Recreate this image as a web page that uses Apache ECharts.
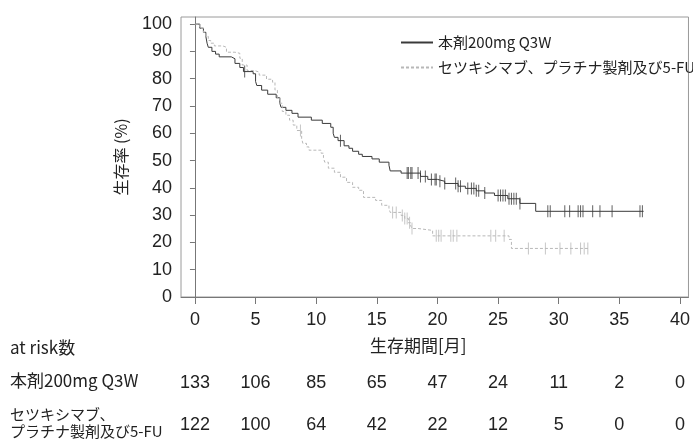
<!DOCTYPE html>
<html>
<head>
<meta charset="utf-8">
<script src="https://cdn.jsdelivr.net/npm/echarts@6/dist/echarts.min.js"></script>
<style>
html,body{margin:0;padding:0;background:#fff;}
#main{width:693px;height:442px;}
</style>
</head>
<body>
<div id="main"></div>
<script>
var nameA = '本剤200mg Q3W';
var nameB = 'セツキシマブ、プラチナ製剤及び5-FU';

// KM steps [month, survival %] (value after the drop)
var stepsA = [[0,100],[0.4,98.5],[0.7,97],[0.9,95.5],[1.0,93],[1.1,91.5],[1.4,90],[1.7,89],[2.0,88],
  [3.0,87.3],[3.3,85.6],[3.7,84.1],[4.0,82.6],[4.8,81.8],[5.0,79],[5.1,77.5],[5.5,75.8],[6.0,74.3],
  [6.7,73],[7.0,71],[7.1,69.5],[7.5,68.4],[8.0,67.3],[8.5,65.9],[9.6,64.8],[10.5,63.6],[11.2,62.2],
  [11.4,60],[11.5,58.5],[11.8,57.3],[12.3,55.4],[12.7,54.5],[13.0,53.4],[13.5,52.3],[13.8,51.5],
  [14.6,50.6],[15.2,49.4],[16.0,48.3],[16.1,46.2],[17.0,45.4],[18.6,44.2],[19.2,43.1],[20.0,42.4],
  [20.6,41.6],[21.7,40.6],[22.3,39.8],[23.2,38.9],[23.9,38.1],[24.7,37.2],[25.8,36.0],[26.8,34.3],
  [28.1,31.4],[37.0,31.4]];
var stepsB = [[0,100],[0.4,98.5],[0.7,97],[0.9,95.5],[1.1,94],[1.3,93],[1.6,92],[2.3,91.5],[2.6,89.7],
  [3.3,89.3],[3.7,87.5],[3.9,85],[4.3,83],[4.9,82.4],[5.3,81.3],[5.9,79.8],[6.4,78.7],[6.6,75.8],
  [6.8,73],[7.0,71],[7.2,68],[7.5,66.6],[7.8,64.8],[8.1,63],[8.4,61],[8.8,58],[8.9,56.3],[9.2,55],
  [9.4,53.8],[10.4,52.7],[10.6,51],[10.7,49.4],[11.0,47.2],[11.5,45.7],[12.0,43.9],[12.5,42],
  [13.0,40.2],[13.5,39.1],[13.9,36.5],[14.9,35.4],[15.4,33.6],[16.0,32.5],[16.1,31.0],[17.0,29.9],
  [17.3,28.8],[17.6,27.2],[17.8,26],[17.9,25.1],[18.4,24.4],[19.6,22.4],[25.9,21.1],[26.1,17.8],
  [32.5,17.8]];

// censoring times
var censA = [4.1,12.0,17.5,17.6,17.8,17.9,18.4,18.6,19.0,19.5,19.8,19.9,20.2,20.6,21.5,21.7,21.9,
  22.5,22.8,23.0,23.2,23.4,23.9,25.0,25.2,25.4,25.6,25.9,26.1,26.3,26.5,26.8,29.1,29.3,30.5,30.9,
  31.6,31.8,32.0,32.8,33.4,34.4,36.7,36.9];
var censB = [8.7,16.3,16.6,17.1,17.3,17.5,17.7,17.9,19.9,20.1,20.3,21.1,21.3,21.6,24.4,24.8,25.5,
  27.5,28.9,30.1,31.0,31.8,32.1,32.4];

var xTicks = [0,5,10,15,20,25,30,35,40];
var yTicks = [0,10,20,30,40,50,60,70,80,90,100];
var riskA = [133,106,85,65,47,24,11,2,0];
var riskB = [122,100,64,42,22,12,5,0,0];

var FONT = "'Liberation Sans','Noto Sans CJK JP',sans-serif";
var JFONT = "'Noto Sans CJK JP','Liberation Sans',sans-serif";

function survAt(steps, t){
  var s = steps[0][1];
  for (var i = 0; i < steps.length; i++) {
    if (steps[i][0] <= t) s = steps[i][1];
  }
  return s;
}
function censPts(steps, times){
  return times.map(function(t){ return [t, survAt(steps, t)]; });
}

var colA = '#3a3a3a';
var colB = '#b8b8b8';

var myChart = echarts.init(document.getElementById('main'));
var option = {
  animation: false,
  grid: {left:181, right:1, top:17, bottom:145, show:true, borderColor:'#9a9a9a', borderWidth:1},
  legend: {
    data: [nameA, nameB],
    orient: 'vertical',
    left: 400, top: 35, padding: 0,
    itemWidth: 32, itemHeight: 14, itemGap: 10,
    itemStyle: {opacity: 0},
    textStyle: {fontFamily: JFONT, fontSize: 15, color: '#222'}
  },
  xAxis: {
    type: 'value', min: -1.15, max: 40.7,
    axisLine: {show: true, lineStyle: {color: '#777'}},
    axisTick: {show: true, customValues: xTicks, length: 7, lineStyle: {color: '#777'}},
    axisLabel: {customValues: xTicks, margin: 14, fontSize: 18, color: '#222', fontFamily: FONT},
    splitLine: {show: false}
  },
  yAxis: {
    type: 'value', min: 0, max: 102.6,
    name: '生存率 (%)', nameLocation: 'middle', nameGap: 52, nameRotate: 90,
    nameTextStyle: {fontSize: 16, color: '#222', fontFamily: JFONT},
    axisLine: {show: true, lineStyle: {color: '#777'}},
    axisTick: {show: true, customValues: yTicks, length: 5, lineStyle: {color: '#777'}},
    axisLabel: {customValues: yTicks, margin: 9, fontSize: 18, color: '#222', fontFamily: FONT},
    splitLine: {show: false}
  },
  series: [
    {name: nameA, type: 'line', step: 'end', data: stepsA, symbol: 'none',
     lineStyle: {color: colA, width: 1}, itemStyle: {color: colA}},
    {name: nameB, type: 'line', step: 'end', data: stepsB, symbol: 'none',
     lineStyle: {color: colB, width: 1, type: [3, 2]}, itemStyle: {color: colB}},
    {name: 'censA', type: 'scatter', data: censPts(stepsA, censA), symbol: 'rect',
     symbolSize: [1, 12], itemStyle: {color: colA}},
    {name: 'censB', type: 'scatter', data: censPts(stepsB, censB), symbol: 'rect',
     symbolSize: [1, 12], itemStyle: {color: colB}}
  ]
};
myChart.setOption(option);

// at-risk table, columns placed on the x scale
var g = [];
g.push({type:'text', left: 370, top: 337, style:{text:'生存期間[月]', font:'17px ' + JFONT, fill:'#222'}});
g.push({type:'text', left: 10, top: 339, style:{text:'at risk数', font:'17px ' + JFONT, fill:'#222'}});
g.push({type:'text', left: 10, top: 372, style:{text:nameA, font:'17px ' + JFONT, fill:'#222'}});
g.push({type:'text', left: 10, top: 406, style:{text:'セツキシマブ、\nプラチナ製剤及び5-FU', font:'15px ' + JFONT, fill:'#222', lineHeight: 17}});
xTicks.forEach(function(t, i){
  var px = myChart.convertToPixel({xAxisIndex: 0}, t);
  g.push({type:'text', x: px, y: 383, style:{text: String(riskA[i]), font:'18px ' + FONT, fill:'#222', align:'center', verticalAlign:'middle'}});
  g.push({type:'text', x: px, y: 425, style:{text: String(riskB[i]), font:'18px ' + FONT, fill:'#222', align:'center', verticalAlign:'middle'}});
});
myChart.setOption({graphic: g});
</script>
</body>
</html>
